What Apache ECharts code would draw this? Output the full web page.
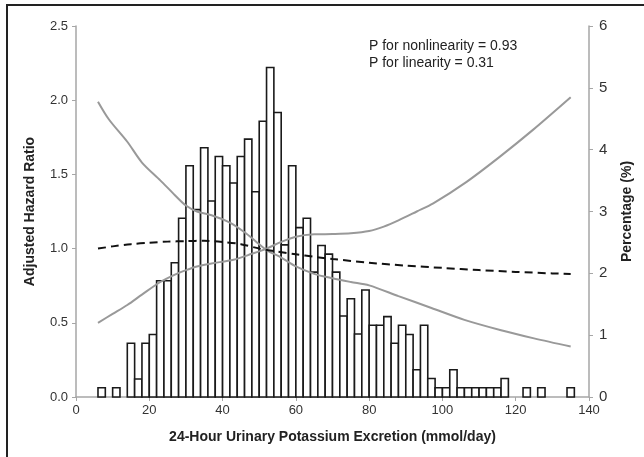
<!DOCTYPE html>
<html style="height:100%;">
<head>
    <meta charset="utf-8">
    <title>Urinary potassium and hazard ratio</title>
    <script src="https://cdn.jsdelivr.net/npm/echarts@6/dist/echarts.min.js"></script>
</head>
<body style="height: 100%; margin: 0;">
    <div id="main" style="width:644px; height:457px;"></div>
    <script type="text/javascript">
    // histogram: bin start (mmol/day), bins are 2 wide, value = percentage
    var binWidth = 2;
    var binStart = [6, 10, 14, 16, 18, 20, 22, 24, 26, 28, 30, 32, 34, 36, 38, 40, 42, 44, 46, 48,
        50, 52, 54, 56, 58, 60, 62, 64, 66, 68, 70, 72, 74, 76, 78, 80, 82, 84, 86, 88,
        90, 92, 94, 96, 98, 100, 102, 104, 106, 108, 110, 112, 114, 116, 122, 126, 134];
    var binPercent = [0.15, 0.15, 0.87, 0.29, 0.87, 1.01, 1.88, 1.88, 2.17, 2.89, 3.74, 3.03, 4.03, 3.17, 3.89, 3.74, 3.46, 3.89, 4.17, 3.32,
        4.46, 5.33, 4.60, 2.46, 3.74, 2.74, 2.89, 2.02, 2.45, 2.31, 2.02, 1.31, 1.59, 1.02, 1.73, 1.16, 1.16, 1.30, 0.87, 1.16,
        1.01, 0.44, 1.16, 0.30, 0.15, 0.15, 0.44, 0.15, 0.15, 0.15, 0.15, 0.15, 0.15, 0.30, 0.15, 0.15, 0.15];

    // adjusted hazard ratio (dashed)
    var hrX = [6, 10, 15, 20, 25, 30, 35, 40, 45, 50, 55, 60, 65, 70, 80, 90, 100, 110, 120, 130, 135];
    var hrY = [1.00, 1.015, 1.03, 1.04, 1.047, 1.05, 1.053, 1.045, 1.03, 1.00, 0.98, 0.962, 0.945, 0.93, 0.905, 0.885, 0.87, 0.855, 0.843, 0.833, 0.829];

    // confidence band, curve starting high
    var ciAX = [6, 9, 14, 18, 23, 27, 30, 33, 37, 42, 46, 49, 52, 56, 60, 65, 70, 75, 80, 88, 97, 106, 116, 125, 135];
    var ciAY = [1.99, 1.87, 1.72, 1.58, 1.46, 1.36, 1.29, 1.25, 1.225, 1.175, 1.11, 1.05, 0.99, 0.94, 0.88, 0.83, 0.80, 0.775, 0.752, 0.68, 0.60, 0.52, 0.45, 0.395, 0.34];

    // confidence band, curve starting low
    var ciBX = [6, 10, 14, 18, 23, 27, 30, 33, 37, 43, 48, 52, 56, 60, 65, 70, 75, 80, 84, 88, 93, 97.5, 106.6, 115.7, 124.7, 135];
    var ciBY = [0.50, 0.56, 0.62, 0.69, 0.775, 0.825, 0.855, 0.88, 0.90, 0.925, 0.965, 1.0, 1.045, 1.08, 1.096, 1.098, 1.103, 1.118, 1.148, 1.19, 1.25, 1.305, 1.45, 1.62, 1.80, 2.02];

    var xTicks = [0, 20, 40, 60, 80, 100, 120, 140];
    var notes = ['P for nonlinearity = 0.93', 'P for linearity = 0.31'];

    function pairs(xs, ys) {
        return xs.map(function (x, i) { return [x, ys[i]]; });
    }

    var myChart = echarts.init(document.getElementById('main'));
    var font = 'Liberation Sans, Arial, sans-serif';
    var axisGray = '#a6a6a6';

    myChart.setOption({
        animation: false,
        backgroundColor: '#fff',
        textStyle: { fontFamily: font },
        grid: { left: 76, right: 55, top: 26, bottom: 60, outerBoundsMode: 'none', containLabel: false },
        xAxis: {
            type: 'value',
            min: xTicks[0],
            max: xTicks[xTicks.length - 1],
            interval: 20,
            name: '24-Hour Urinary Potassium Excretion (mmol/day)',
            nameLocation: 'middle',
            nameGap: 33,
            nameTextStyle: { fontSize: 14, fontWeight: 'bold', color: '#222' },
            axisLine: { lineStyle: { color: axisGray, width: 1.5 } },
            axisTick: { length: 4, lineStyle: { color: axisGray } },
            axisLabel: { fontSize: 13, color: '#333', margin: 7 },
            splitLine: { show: false }
        },
        yAxis: [{
            type: 'value',
            min: 0, max: 2.5, interval: 0.5,
            name: 'Adjusted Hazard Ratio',
            nameLocation: 'middle',
            nameGap: 39,
            nameTextStyle: { fontSize: 14, fontWeight: 'bold', color: '#222' },
            axisLine: { show: true, lineStyle: { color: axisGray, width: 1.5 } },
            axisTick: { show: true, length: 4, lineStyle: { color: axisGray } },
            axisLabel: { fontSize: 13, color: '#333', margin: 8, formatter: function (v) { return v.toFixed(1); } },
            splitLine: { show: false }
        }, {
            type: 'value',
            position: 'right',
            min: 0, max: 6, interval: 1,
            name: 'Percentage (%)',
            nameLocation: 'middle',
            nameGap: 31,
            nameTextStyle: { fontSize: 14, fontWeight: 'bold', color: '#222' },
            axisLine: { show: true, lineStyle: { color: axisGray, width: 1.5 } },
            axisTick: { show: true, length: 4, lineStyle: { color: axisGray } },
            axisLabel: { fontSize: 15, color: '#333', margin: 10 },
            splitLine: { show: false }
        }],
        graphic: [{
            type: 'polyline',
            shape: { points: [[7, 457], [7, 5], [644, 5]] },
            style: { stroke: '#222', lineWidth: 2, fill: null }
        }, {
            type: 'text',
            left: 369,
            top: 38,
            style: { text: notes.join('\n'), font: '14px ' + font, fill: '#222', lineHeight: 17 }
        }],
        series: [{
            type: 'custom',
            yAxisIndex: 1,
            z: 1,
            data: pairs(binStart, binPercent),
            encode: { x: 0, y: 1 },
            renderItem: function (params, api) {
                var x0 = api.value(0);
                var top = api.coord([x0, api.value(1)]);
                var bottom = api.coord([x0 + binWidth, 0]);
                return {
                    type: 'rect',
                    shape: { x: top[0], y: top[1], width: bottom[0] - top[0], height: bottom[1] - top[1] },
                    style: { fill: '#fff', stroke: '#1a1a1a', lineWidth: 1.6 }
                };
            }
        }, {
            type: 'line',
            yAxisIndex: 0,
            z: 3,
            data: pairs(ciAX, ciAY),
            smooth: 0.3,
            symbol: 'none',
            lineStyle: { color: '#999', width: 2 }
        }, {
            type: 'line',
            yAxisIndex: 0,
            z: 3,
            data: pairs(ciBX, ciBY),
            smooth: 0.3,
            symbol: 'none',
            lineStyle: { color: '#999', width: 2 }
        }, {
            type: 'line',
            yAxisIndex: 0,
            z: 4,
            data: pairs(hrX, hrY),
            smooth: 0.3,
            symbol: 'none',
            lineStyle: { color: '#111', width: 2, type: [8, 5] }
        }]
    });
    </script>
</body>
</html>
